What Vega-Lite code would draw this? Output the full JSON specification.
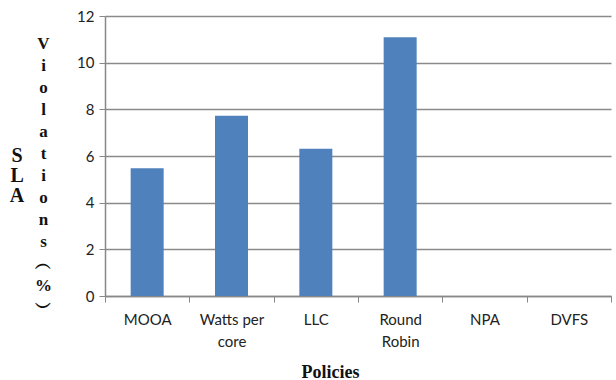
{
  "$schema": "https://vega.github.io/schema/vega-lite/v6.json",
  "autosize": "none",
  "width": 506,
  "height": 280,
  "padding": {"left": 105, "top": 16, "right": 5, "bottom": 84},
  "background": "white",
  "title": {
    "text": ["S", "L", "A"],
    "orient": "left",
    "anchor": "middle",
    "angle": 0,
    "font": "Liberation Serif",
    "fontSize": 20,
    "fontWeight": "bold",
    "color": "#111111",
    "lineHeight": 20,
    "offset": 3,
    "dy": -10
  },
  "data": {
    "values": [
      {"policy": "MOOA", "sla": 5.47},
      {"policy": "Watts per core", "sla": 7.73},
      {"policy": "LLC", "sla": 6.31},
      {"policy": "Round Robin", "sla": 11.09},
      {"policy": "NPA", "sla": 0},
      {"policy": "DVFS", "sla": 0}
    ]
  },
  "mark": {"type": "bar", "size": 33, "color": "#4f81bd"},
  "encoding": {
    "x": {
      "field": "policy",
      "type": "nominal",
      "sort": null,
      "scale": {"paddingInner": 0, "paddingOuter": 0},
      "axis": {
        "title": "Policies",
        "titleFont": "Liberation Serif",
        "titleFontSize": 18,
        "titleFontWeight": "bold",
        "titleColor": "#111111",
        "titleX": 225,
        "titlePadding": 14,
        "labelAngle": 0,
        "labelFont": "Lato",
        "labelFontSize": 15,
        "labelColor": "#222222",
        "labelPadding": 10,
        "labelLineHeight": 22,
        "labelExpr": "datum.label == 'Watts per core' ? ['Watts per', 'core'] : datum.label == 'Round Robin' ? ['Round', 'Robin'] : datum.label",
        "tickBand": "extent",
        "tickSize": 6,
        "tickColor": "#888888",
        "domainColor": "#888888",
        "domainWidth": 1.5
      }
    },
    "y": {
      "field": "sla",
      "type": "quantitative",
      "scale": {"domain": [0, 12], "nice": false},
      "axis": {
        "values": [0, 2, 4, 6, 8, 10, 12],
        "title": ["V", "i", "o", "l", "a", "t", "i", "o", "n", "s", "︵", "%", "︶"],
        "titleAngle": 0,
        "titleFont": "Liberation Serif",
        "titleFontSize": 17,
        "titleFontWeight": "bold",
        "titleColor": "#111111",
        "titleLineHeight": 22,
        "titleAlign": "center",
        "titleBaseline": "middle",
        "titleX": -62,
        "titleY": 27,
        "labelFont": "Lato",
        "labelFontSize": 15,
        "labelColor": "#222222",
        "labelPadding": 5,
        "tickSize": 6,
        "tickColor": "#888888",
        "domainColor": "#888888",
        "domainWidth": 1.5,
        "gridColor": "#8a8a8a",
        "gridWidth": 1.3
      }
    }
  },
  "config": {
    "view": {"stroke": null}
  }
}
